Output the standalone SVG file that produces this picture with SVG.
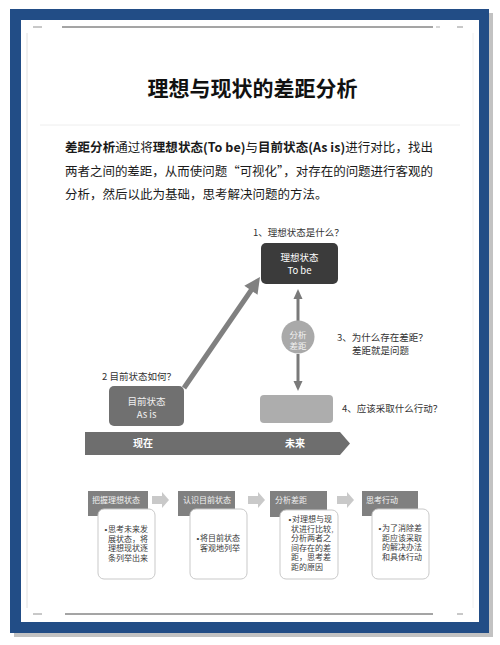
<svg xmlns="http://www.w3.org/2000/svg" width="500" height="645" viewBox="0 0 500 645">
<style>
text{font-family:"Noto Sans CJK SC","Liberation Sans",sans-serif}
.lbl{font-size:9.5px;fill:#333}
.wt{fill:#fff}
.hdr{fill:#808080}
.hdrt{font-size:8px;fill:#f2f2f2}
.card{fill:#fff;stroke:#c9c9c9;stroke-width:1}
.ct{font-size:8px;fill:#3a3a3a}
.bul{font-family:"Liberation Sans",Arial,sans-serif;font-size:8px;fill:#3a3a3a}
.chev{fill:#c9c9c9}
</style>
<g id="frame">
<rect x="14" y="13" width="479" height="624" fill="#c2c2c2"/>
<rect x="10" y="9" width="479" height="624" fill="#224d86"/>
<rect x="21" y="20" width="458" height="602" fill="#fff"/>
<line x1="62" y1="27" x2="433" y2="27" stroke="#4a4a4a" stroke-width="1"/>
<line x1="33" y1="27" x2="42" y2="27" stroke="#777" stroke-width="0.8"/>
<line x1="436" y1="27" x2="440" y2="27" stroke="#999" stroke-width="0.8"/>
<line x1="457" y1="27" x2="463" y2="27" stroke="#777" stroke-width="0.8"/>
<line x1="65" y1="614" x2="433" y2="614" stroke="#4a4a4a" stroke-width="1"/>
<line x1="33" y1="614" x2="42" y2="614" stroke="#777" stroke-width="0.8"/>
<line x1="457" y1="614" x2="463" y2="614" stroke="#777" stroke-width="0.8"/>
<line x1="27" y1="33" x2="27" y2="608" stroke="#d8d8d8" stroke-width="0.8"/>
<line x1="473" y1="33" x2="473" y2="608" stroke="#ececec" stroke-width="0.8"/>
</g>
<g id="title">
<text x="252.5" y="96" font-size="21" font-weight="bold" text-anchor="middle" fill="#111">理想与现状的差距分析</text>
<line x1="40" y1="125" x2="460" y2="125" stroke="#eeeeee" stroke-width="1"/>
</g>
<g id="intro" font-size="12.5" fill="#1a1a1a">
<text x="65" y="152" textLength="368" lengthAdjust="spacing"><tspan font-weight="bold">差距分析</tspan>通过将<tspan font-weight="bold">理想状态(To be)</tspan>与<tspan font-weight="bold">目前状态(As is)</tspan>进行对比，找出</text>
<text x="65" y="176" textLength="368" lengthAdjust="spacing">两者之间的差距，从而使问题“可视化”，对存在的问题进行客观的</text>
<text x="65" y="199">分析，然后以此为基础，思考解决问题的方法。</text>
</g>
<g id="connectors">
<line x1="184" y1="388" x2="252" y2="289" stroke="#808080" stroke-width="5"/>
<polygon points="260,277 257.5,294.7 244.3,285.7" fill="#808080"/>
<line x1="298" y1="321" x2="298" y2="298" stroke="#7a7a7a" stroke-width="3"/>
<polygon points="298,289 302.5,299 293.5,299" fill="#7a7a7a"/>
<line x1="298" y1="354" x2="298" y2="382" stroke="#7a7a7a" stroke-width="3"/>
<polygon points="298,391 302.5,381 293.5,381" fill="#7a7a7a"/>
<polygon class="chev" points="152,496 162,496 162,492 169,500 162,508 162,504 152,504"/>
<polygon class="chev" points="248,496 258,496 258,492 265,500 258,508 258,504 248,504"/>
<polygon class="chev" points="337,496 347,496 347,492 354,500 347,508 347,504 337,504"/>
</g>
<g id="tobe">
<rect x="261" y="243" width="77" height="41" rx="5" fill="#3b3b3b"/>
<text font-size="9.5" text-anchor="middle" class="wt"><tspan x="299.5" y="261">理想状态</tspan><tspan x="299.5" y="274">To be</tspan></text>
</g>
<g id="q1"><text x="253" y="235.5" class="lbl">1、理想状态是什么？</text></g>
<g id="gap">
<circle cx="298" cy="337" r="16.5" fill="#a9a9a9"/>
<text font-size="8.5" text-anchor="middle" fill="#f4f4f4"><tspan x="298" y="337.5">分析</tspan><tspan x="298" y="348.5">差距</tspan></text>
</g>
<g id="q3">
<text class="lbl"><tspan x="337" y="340.5">3、为什么存在差距？</tspan><tspan x="352" y="353.5">差距就是问题</tspan></text>
</g>
<g id="asis">
<rect x="109" y="386" width="75" height="40" rx="5" fill="#707070"/>
<text font-size="9.5" text-anchor="middle" fill="#f0f0f0"><tspan x="146.5" y="404.5">目前状态</tspan><tspan x="146.5" y="417.5">As is</tspan></text>
</g>
<g id="q2"><text x="102" y="379.5" class="lbl">2  目前状态如何？</text></g>
<g id="action">
<rect x="260" y="395" width="73" height="28" rx="4" fill="#adadad"/>
</g>
<g id="q4"><text x="342" y="411.5" class="lbl">4、应该采取什么行动？</text></g>
<g id="timeline">
<polygon points="85,432 340,432 350,443.5 340,455 85,455" fill="#6e6e6e"/>
<text x="143" y="447" font-size="10" font-weight="bold" text-anchor="middle" fill="#fff">现在</text>
<text x="295" y="447" font-size="10" font-weight="bold" text-anchor="middle" fill="#fff">未来</text>
</g>
<g id="step1">
<rect x="88" y="491" width="60" height="25" class="hdr"/>
<text x="92" y="503" class="hdrt">把握理想状态</text>
<rect x="98" y="509" width="57" height="70" rx="6" class="card"/>
<text class="ct"><tspan class="bul" x="104.5" y="532">•</tspan><tspan x="108" y="532">思考未来发</tspan><tspan x="108" y="541.6">展状态，将</tspan><tspan x="108" y="551.2">理想现状逐</tspan><tspan x="108" y="560.8">条列举出来</tspan></text>
</g>
<g id="step2">
<rect x="178" y="491" width="57" height="25" class="hdr"/>
<text x="183" y="503" class="hdrt">认识目前状态</text>
<rect x="190" y="509" width="57" height="70" rx="6" class="card"/>
<text class="ct"><tspan class="bul" x="196.5" y="541">•</tspan><tspan x="200" y="541">将目前状态</tspan><tspan x="200" y="550.6">客观地列举</tspan></text>
</g>
<g id="step3">
<rect x="270" y="491" width="57" height="26" class="hdr"/>
<text x="275" y="503" class="hdrt">分析差距</text>
<rect x="280" y="510" width="58" height="69" rx="6" class="card"/>
<text class="ct"><tspan class="bul" x="288.5" y="522">•</tspan><tspan x="292" y="522">对理想与现</tspan><tspan x="291" y="531.6">状进行比较</tspan><tspan font-size="6">，</tspan><tspan x="291" y="541.2">分析两者之</tspan><tspan x="291" y="550.8">间存在的差</tspan><tspan x="291" y="560.4">距，思考差</tspan><tspan x="291" y="570">距的原因</tspan></text>
</g>
<g id="step4">
<rect x="362" y="491" width="56" height="25" class="hdr"/>
<text x="366" y="503" class="hdrt">思考行动</text>
<rect x="372" y="509" width="57" height="70" rx="6" class="card"/>
<text class="ct"><tspan class="bul" x="378.5" y="531">•</tspan><tspan x="382" y="531">为了消除差</tspan><tspan x="382" y="540.6">距应该采取</tspan><tspan x="382" y="550.2">的解决办法</tspan><tspan x="382" y="559.8">和具体行动</tspan></text>
</g>
</svg>
